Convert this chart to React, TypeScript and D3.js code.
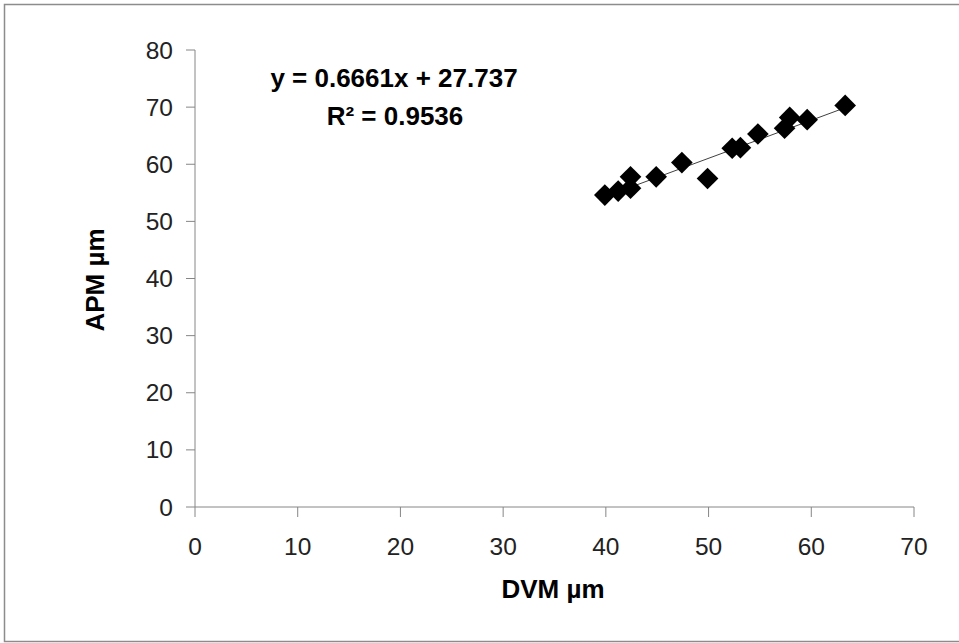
import { useRef, useEffect } from "react";
import * as d3 from "d3";

// DVM (x) and APM (y) measurements, in µm
const dvm = [39.9, 41.2, 42.4, 42.4, 44.9, 47.4, 49.9, 52.3, 53.1, 54.8, 57.4, 57.9, 59.6, 63.3];
const apm = [54.6, 55.3, 57.8, 55.8, 57.8, 60.3, 57.5, 62.8, 62.9, 65.3, 66.3, 68.2, 67.8, 70.3];
const xTicks = [0, 10, 20, 30, 40, 50, 60, 70];
const yTicks = [0, 10, 20, 30, 40, 50, 60, 70, 80];
const slope = 0.6661;
const intercept = 27.737;
const eqLabel = "y = 0.6661x + 27.737";
const r2Label = "R² = 0.9536";

export default function App() {
  const svgRef = useRef<SVGSVGElement | null>(null);

  useEffect(() => {
    const svg = d3.select(svgRef.current);
    svg.selectAll("*").remove();
    const font = "'Liberation Sans', Arial, sans-serif";
    const axisColor = "#868686";

    // outer chart frame
    svg.append("rect")
      .attr("x", 4.5).attr("y", 4.5)
      .attr("width", 1000).attr("height", 637)
      .attr("fill", "none").attr("stroke", "#8c8c8c").attr("stroke-width", 1.5);

    const x = d3.scaleLinear().domain([0, 70]).range([195, 914]);
    const y = d3.scaleLinear().domain([0, 80]).range([507, 50]);

    // axis lines
    svg.append("line")
      .attr("x1", x(0)).attr("x2", x(70)).attr("y1", y(0)).attr("y2", y(0))
      .attr("stroke", axisColor);
    svg.append("line")
      .attr("x1", x(0)).attr("x2", x(0)).attr("y1", y(0)).attr("y2", y(80))
      .attr("stroke", axisColor);

    // x ticks + labels
    const xt = svg.append("g").selectAll("g").data(xTicks).join("g");
    xt.append("line")
      .attr("x1", (d) => x(d)).attr("x2", (d) => x(d))
      .attr("y1", y(0)).attr("y2", y(0) + 10)
      .attr("stroke", axisColor);
    xt.append("text")
      .attr("x", (d) => x(d)).attr("y", 555)
      .attr("text-anchor", "middle")
      .attr("font-family", font).attr("font-size", 24.5).attr("fill", "#222")
      .text((d) => d);

    // y ticks + labels
    const yt = svg.append("g").selectAll("g").data(yTicks).join("g");
    yt.append("line")
      .attr("x1", x(0) - 9).attr("x2", x(0))
      .attr("y1", (d) => y(d)).attr("y2", (d) => y(d))
      .attr("stroke", axisColor);
    yt.append("text")
      .attr("x", 173).attr("y", (d) => y(d) + 8.5)
      .attr("text-anchor", "end")
      .attr("font-family", font).attr("font-size", 24.5).attr("fill", "#222")
      .text((d) => d);

    // axis titles
    svg.append("text")
      .attr("x", 553).attr("y", 598)
      .attr("text-anchor", "middle")
      .attr("font-family", font).attr("font-size", 26).attr("font-weight", "bold")
      .text("DVM µm");
    svg.append("text")
      .attr("transform", "translate(104,280) rotate(-90)")
      .attr("text-anchor", "middle")
      .attr("font-family", font).attr("font-size", 26).attr("font-weight", "bold")
      .text("APM µm");

    // linear trendline
    const [xmin, xmax] = d3.extent(dvm) as [number, number];
    svg.append("line")
      .attr("x1", x(xmin)).attr("y1", y(slope * xmin + intercept))
      .attr("x2", x(xmax)).attr("y2", y(slope * xmax + intercept))
      .attr("stroke", "#404040").attr("stroke-width", 1);

    // diamond markers
    const diamond = d3.symbol().type(d3.symbolSquare).size(235);
    svg.append("g").selectAll("path")
      .data(dvm)
      .join("path")
      .attr("d", diamond)
      .attr("transform", (d, i) => `translate(${x(d)},${y(apm[i])}) rotate(45)`)
      .attr("fill", "#000");

    // equation label
    svg.append("text")
      .attr("x", 394).attr("y", 87)
      .attr("text-anchor", "middle")
      .attr("font-family", font).attr("font-size", 26).attr("font-weight", "bold")
      .text(eqLabel);
    svg.append("text")
      .attr("x", 395).attr("y", 125)
      .attr("text-anchor", "middle")
      .attr("font-family", font).attr("font-size", 26).attr("font-weight", "bold")
      .text(r2Label);
  }, []);

  return (
    <svg
      ref={svgRef}
      width={959}
      height={643}
      style={{ position: "absolute", left: 0, top: 0, background: "#fff" }}
    />
  );
}
